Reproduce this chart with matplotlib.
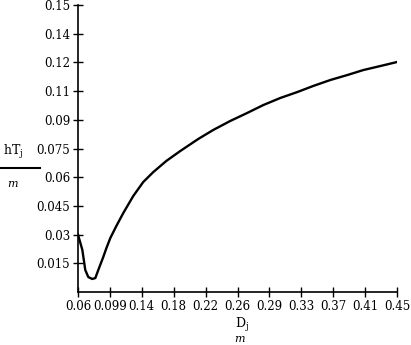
import matplotlib.pyplot as plt
from matplotlib.lines import Line2D

# Donnees (D_j en m, hT_j en m)
d_vals = [0.060, 0.0653, 0.0689, 0.0726, 0.0775, 0.0812, 0.0848, 0.0909, 0.0946,
          0.0995, 0.1069, 0.1154, 0.1276, 0.1398, 0.1521, 0.168, 0.1851, 0.2071,
          0.2254, 0.2462, 0.267, 0.2865, 0.3073, 0.3281, 0.3477, 0.3685, 0.3893,
          0.4088, 0.4296, 0.45]
ht_vals = [0.030, 0.022, 0.0115, 0.0078, 0.0068, 0.0073, 0.0115, 0.0183, 0.0228,
           0.0282, 0.0345, 0.0413, 0.0502, 0.0575, 0.0627, 0.0685, 0.0737, 0.08,
           0.0847, 0.0894, 0.0936, 0.0977, 0.1014, 0.1045, 0.1077, 0.1108, 0.1134,
           0.1160, 0.1181, 0.1202]

x_ticks = [0.06, 0.099, 0.138, 0.177, 0.216, 0.255, 0.294, 0.333, 0.372, 0.411, 0.45]
x_labels = ['0.06', '0.099', '0.14', '0.18', '0.22', '0.26', '0.29', '0.33', '0.37', '0.41', '0.45']
y_ticks = [0.015, 0.03, 0.045, 0.06, 0.075, 0.09, 0.105, 0.12, 0.135, 0.15]
y_labels = ['0.015', '0.03', '0.045', '0.06', '0.075', '0.09', '0.11', '0.12', '0.14', '0.15']

plt.rcParams['font.family'] = ['DejaVu Serif']

fig = plt.figure(figsize=(4.11, 3.45), dpi=100)
ax = fig.add_axes([78 / 411, 1 - 292 / 345, (397 - 78) / 411, (292 - 5) / 345])

ax.plot(d_vals, ht_vals, color='black', lw=1.7)

ax.set_xlim(0.06, 0.45)
ax.set_ylim(0, 0.15)
ax.set_xticks(x_ticks)
ax.set_xticklabels(x_labels)
ax.set_yticks(y_ticks)
ax.set_yticklabels(y_labels)
ax.tick_params(direction='inout', length=7, width=1, labelsize=8.5, pad=2, colors='black')

ax.spines['top'].set_visible(False)
ax.spines['right'].set_visible(False)
ax.spines['left'].set_linewidth(1.2)
ax.spines['bottom'].set_linewidth(1.2)

# Etiquette de l'axe Y (fraction style Mathcad)
fig.text(3 / 411, 1 - 152 / 345, r'hT$_\mathregular{j}$', fontsize=9, va='center', ha='left')
fig.add_artist(Line2D([0, 40 / 411], [1 - 168 / 345, 1 - 168 / 345], color='black', lw=1.5))
fig.text(7 / 411, 1 - 184 / 345, 'm', fontsize=8, style='italic', va='center', ha='left')

# Etiquette de l'axe X
fig.text(235 / 411, 1 - 325 / 345, r'D$_\mathregular{j}$', fontsize=9, va='center', ha='left')
fig.text(234 / 411, 1 - 339 / 345, 'm', fontsize=8, style='italic', va='center', ha='left')

plt.savefig('out.png', dpi=100)
